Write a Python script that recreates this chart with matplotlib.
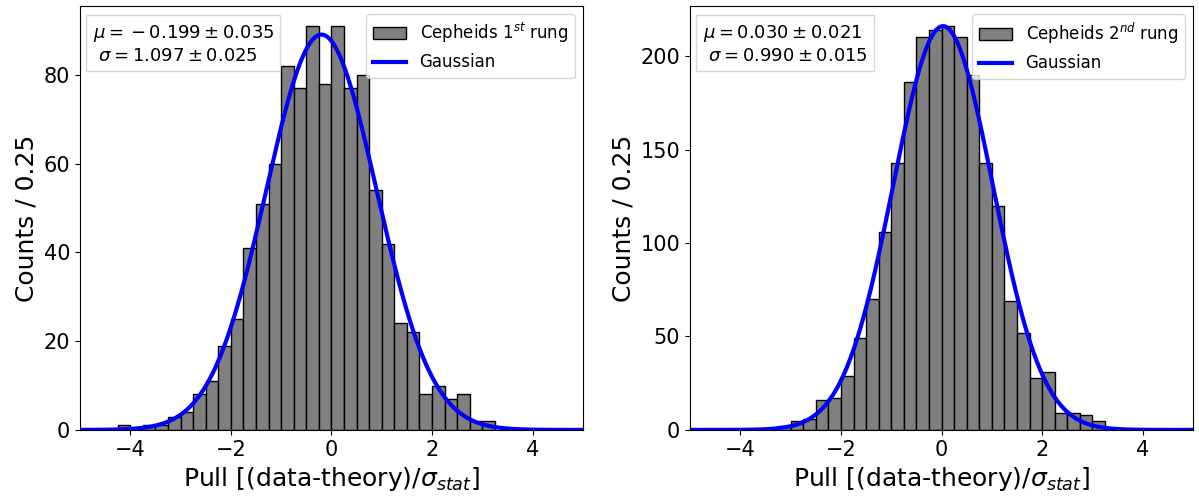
"""
Pull distributions for the Cepheid rungs with Gaussian overlay.
"""
import matplotlib
matplotlib.use("Agg")
import matplotlib.pyplot as plt
import numpy as np

BIN_WIDTH = 0.25

# 1st rung: counts per 0.25 bin, first bin starts at -4.25
rung1_start = -4.25
rung1_counts = [1, 0, 1, 1, 3, 4, 8, 11, 19, 25, 41, 51, 60, 82, 77,
                91, 78, 91, 77, 80, 54, 42, 24, 22, 8, 10, 7, 8, 2, 2]
rung1_mu, rung1_mu_err = -0.199, 0.035
rung1_sigma, rung1_sigma_err = 1.097, 0.025

# 2nd rung: counts per 0.25 bin, first bin starts at -3.5
rung2_start = -3.5
rung2_counts = [1, 2, 5, 6, 16, 17, 29, 49, 70, 106, 143, 186, 210, 214,
                216, 210, 190, 143, 120, 69, 52, 28, 31, 9, 9, 8, 5]
rung2_mu, rung2_mu_err = 0.030, 0.021
rung2_sigma, rung2_sigma_err = 0.990, 0.015

panels = [
    (rung1_start, rung1_counts, rung1_mu, rung1_mu_err, rung1_sigma,
     rung1_sigma_err, r"Cepheids 1$^{st}$ rung"),
    (rung2_start, rung2_counts, rung2_mu, rung2_mu_err, rung2_sigma,
     rung2_sigma_err, r"Cepheids 2$^{nd}$ rung"),
]


def draw_panel(ax, start, counts, mu, mu_err, sigma, sigma_err, label):
    counts = np.asarray(counts, dtype=float)
    lefts = start + BIN_WIDTH * np.arange(len(counts))
    bars = ax.bar(lefts, counts, width=BIN_WIDTH, align="edge", color="grey",
                  edgecolor="black", linewidth=1.0, label=label)

    x = np.linspace(-5, 5, 600)
    norm = counts.sum() * BIN_WIDTH / (np.sqrt(2 * np.pi) * sigma)
    line, = ax.plot(x, norm * np.exp(-0.5 * ((x - mu) / sigma) ** 2),
                    color="blue", lw=3, label="Gaussian")

    ax.set_xlim(-5, 5)
    ax.set_xlabel(r"Pull [(data-theory)/$\sigma_{stat}$]", fontsize=18)
    ax.set_ylabel("Counts / 0.25", fontsize=18)
    ax.tick_params(labelsize=15)
    ax.legend([bars, line], [label, "Gaussian"], loc="upper right",
              fontsize=12)

    # "{}" before a negative value gives the binary-minus spacing of the original
    mu_str = f"{{}} {mu:.3f}" if mu < 0 else f"{mu:.3f}"
    txt = (rf"$\mu = {mu_str} \pm {mu_err:.3f}$" + "\n"
           + rf" $\sigma = {sigma:.3f} \pm {sigma_err:.3f}$")
    ax.text(0.025, 0.96, txt, transform=ax.transAxes, ha="left", va="top",
            fontsize=13,
            bbox=dict(boxstyle="square,pad=0.35", facecolor="white",
                      edgecolor="0.8", alpha=0.8))


fig, axes = plt.subplots(1, 2, figsize=(11.99, 4.97), dpi=100)
for ax, p in zip(axes, panels):
    draw_panel(ax, *p)

fig.subplots_adjust(left=0.0667, right=0.995, bottom=0.135, top=0.988,
                    wspace=0.213)
fig.savefig("out.png", dpi=100)
